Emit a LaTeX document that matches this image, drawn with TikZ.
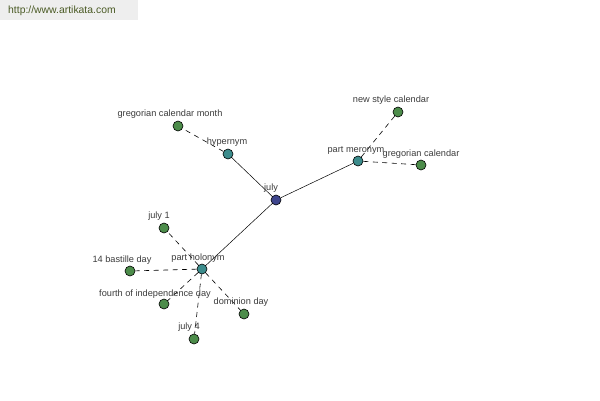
\documentclass[tikz,border=0pt]{standalone}
\usepackage{fontspec}
\setmainfont{Liberation Sans}
\begin{document}
\begin{tikzpicture}[x=1pt,y=-1pt,
  vtx/.style={circle,draw=black,line width=0.6pt,minimum size=10pt,inner sep=0pt},
  leaf/.style={vtx,fill=leafgreen},
  hub/.style={vtx,fill=hubteal},
  root/.style={vtx,fill=rootblue},
  lbl/.style={font=\fontsize{9.2}{11}\selectfont,text=labelgray,inner sep=0pt},
  rel/.style={draw=black,line width=0.5pt},
  weak/.style={draw=black,line width=0.6pt,dash pattern=on 5pt off 4.5pt}]
\definecolor{leafgreen}{HTML}{4C8C4A}
\definecolor{hubteal}{HTML}{3C8C8C}
\definecolor{rootblue}{HTML}{3E458C}
\definecolor{labelgray}{HTML}{3C3C3C}
\definecolor{wmgray}{HTML}{EEEEEE}
\definecolor{wmtext}{HTML}{4A5A24}
\useasboundingbox[fill=white] (0,0) rectangle (600,400);
\fill[wmgray] (0,0) rectangle (138,20);
\node[anchor=west,inner sep=0pt,text=wmtext,font=\fontsize{10.4}{12}\selectfont] (wm) at (8,11) {http://www.artikata.com};

\node[root] (july) at (276,200) {};
\node[hub] (hyper) at (228,154) {};
\node[leaf] (gcm) at (178,126) {};
\node[hub] (mero) at (358,161) {};
\node[leaf] (nsc) at (398,112) {};
\node[leaf] (gc) at (421,165) {};
\node[hub] (holo) at (202,269) {};
\node[leaf] (j1) at (164,228) {};
\node[leaf] (bast) at (130,271) {};
\node[leaf] (fourth) at (164,304) {};
\node[leaf] (dom) at (244,314) {};
\node[leaf] (j4) at (194,339) {};

\draw[rel] (july) -- (hyper);
\draw[rel] (july) -- (mero);
\draw[rel] (july) -- (holo);
\draw[weak] (hyper) -- (gcm);
\draw[weak] (mero) -- (nsc);
\draw[weak] (mero) -- (gc);
\draw[weak] (holo) -- (j1);
\draw[weak] (holo) -- (bast);
\draw[weak] (holo) -- (fourth);
\draw[weak] (holo) -- (dom);
\draw[weak] (holo) -- (j4);

\node[lbl] (tjuly) at (271,188) {july};
\node[lbl] (thyper) at (227,142) {hypernym};
\node[lbl] (tgcm) at (170,114) {gregorian calendar month};
\node[lbl] (tmero) at (356,150) {part meronym};
\node[lbl] (tnsc) at (391,100) {new style calendar};
\node[lbl] (tgc) at (421,154) {gregorian calendar};
\node[lbl] (tholo) at (198,258) {part holonym};
\node[lbl] (tj1) at (159,216) {july 1};
\node[lbl] (tbast) at (122,260) {14 bastille day};
\node[lbl] (tfourth) at (155,294) {fourth of independence day};
\node[lbl] (tdom) at (241,302) {dominion day};
\node[lbl] (tj4) at (189,327) {july 4};
\end{tikzpicture}
\end{document}
